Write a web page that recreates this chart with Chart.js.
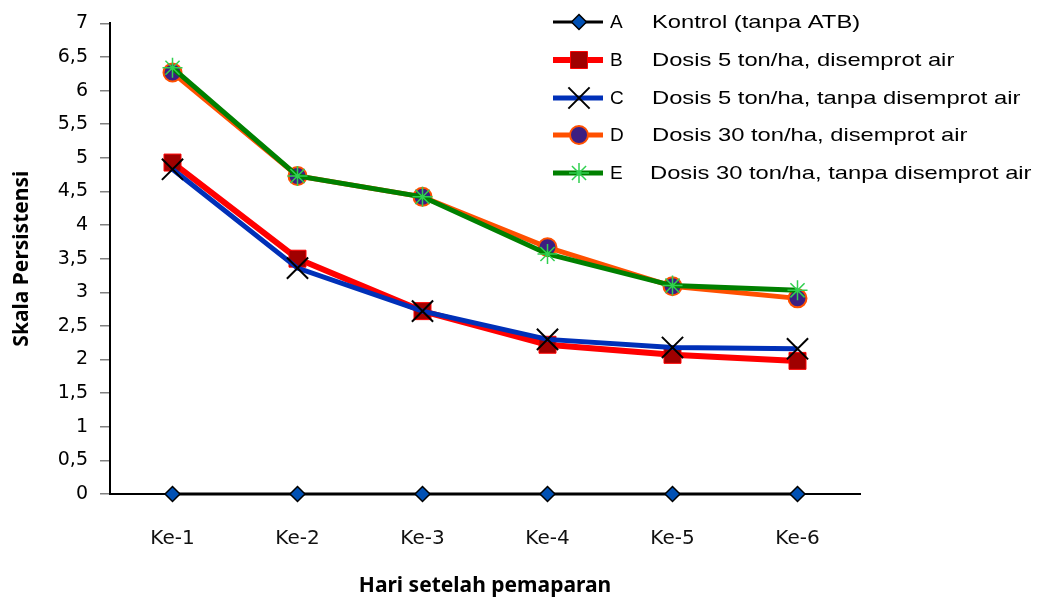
<!DOCTYPE html>
<html>
<head>
<meta charset="utf-8">
<script src="https://cdn.jsdelivr.net/npm/chart.js@4"></script>
<style>
  html, body { margin: 0; padding: 0; background: #fff; }
  #wrap { width: 1044px; height: 601px; }
</style>
</head>
<body>
<div id="wrap"><canvas id="chart"></canvas></div>
<script>
const categories = ['Ke-1', 'Ke-2', 'Ke-3', 'Ke-4', 'Ke-5', 'Ke-6'];
const seriesA = [0, 0, 0, 0, 0, 0];
const seriesB = [4.93, 3.50, 2.72, 2.22, 2.07, 1.98];
const seriesC = [4.83, 3.36, 2.72, 2.30, 2.18, 2.16];
const seriesD = [6.27, 4.73, 4.42, 3.67, 3.09, 2.91];
const seriesE = [6.34, 4.73, 4.42, 3.57, 3.10, 3.03];
const legendLetters = ['A', 'B', 'C', 'D', 'E'];
const legendTexts = [
    'Kontrol (tanpa ATB)',
    'Dosis 5 ton/ha, disemprot air',
    'Dosis 5 ton/ha, tanpa disemprot air',
    'Dosis 30 ton/ha, disemprot air',
    'Dosis 30 ton/ha, tanpa disemprot air'
];
const yAxisTitle = 'Skala Persistensi';
const xAxisTitle = 'Hari setelah pemaparan';

const tickFont = '"DejaVu Sans", sans-serif';
const titleFont = '"Noto Sans", sans-serif';

// legend drawn over the plot, top right, like the original
// (the source picture is stretched sideways, so the text is too)
const sideLegend = {
    id: 'sideLegend',
    afterDraw(chart) {
        const ctx = chart.ctx;
        const rowY = [22, 60, 98, 135, 173];
        chart.data.datasets.forEach(function(ds, i) {
            const y = rowY[i];
            ctx.save();
            ctx.strokeStyle = ds.borderColor;
            ctx.lineWidth = ds.borderWidth;
            ctx.beginPath();
            ctx.moveTo(553, y);
            ctx.lineTo(603, y);
            ctx.stroke();
            ctx.fillStyle = ds.pointBackgroundColor;
            ctx.strokeStyle = ds.pointBorderColor;
            ctx.lineWidth = ds.pointBorderWidth;
            Chart.helpers.drawPoint(ctx, {
                pointStyle: ds.pointStyle,
                radius: ds.pointRadius,
                rotation: 0,
                borderWidth: ds.pointBorderWidth
            }, 579, y);
            ctx.fillStyle = '#000';
            ctx.font = '19px "Liberation Sans", Arial, sans-serif';
            ctx.textBaseline = 'middle';
            ctx.fillText(legendLetters[i], 610, y + 1);
            ctx.translate(i === 4 ? 650 : 652, y + 1);
            ctx.scale(1.25, 1);
            ctx.fillText(legendTexts[i], 0, 0);
            ctx.restore();
        });
    }
};

const ctx = document.getElementById('chart');
new Chart(ctx, {
    type: 'line',
    data: {
        labels: categories,
        datasets: [{
            label: legendLetters[0],
            data: seriesA,
            borderColor: '#000000',
            borderWidth: 3,
            pointStyle: 'rectRot',
            pointRadius: 7.5,
            pointBackgroundColor: '#0050b4',
            pointBorderColor: '#000000',
            pointBorderWidth: 1.5,
            order: 5
        }, {
            label: legendLetters[1],
            data: seriesB,
            borderColor: '#ff0000',
            borderWidth: 6,
            pointStyle: 'rect',
            pointRadius: 12,
            pointBackgroundColor: '#a00000',
            pointBorderColor: '#ff0000',
            pointBorderWidth: 1,
            order: 4
        }, {
            label: legendLetters[2],
            data: seriesC,
            borderColor: '#0030b8',
            borderWidth: 5,
            pointStyle: 'crossRot',
            pointRadius: 15,
            pointBackgroundColor: '#000000',
            pointBorderColor: '#000000',
            pointBorderWidth: 2,
            order: 3
        }, {
            label: legendLetters[3],
            data: seriesD,
            borderColor: '#ff5000',
            borderWidth: 5,
            pointStyle: 'circle',
            pointRadius: 9,
            pointBackgroundColor: '#3c1e82',
            pointBorderColor: '#ff5000',
            pointBorderWidth: 2,
            order: 2
        }, {
            label: legendLetters[4],
            data: seriesE,
            borderColor: '#008000',
            borderWidth: 5,
            pointStyle: 'star',
            pointRadius: 10,
            pointBackgroundColor: '#30d050',
            pointBorderColor: '#30d050',
            pointBorderWidth: 1.5,
            order: 1
        }]
    },
    options: {
        responsive: true,
        maintainAspectRatio: false,
        animation: false,
        layout: {
            padding: { top: 20, right: 184, left: 0, bottom: 0 }
        },
        elements: {
            line: { tension: 0 }
        },
        datasets: {
            line: { clip: false }
        },
        plugins: {
            legend: { display: false },
            tooltip: { enabled: false }
        },
        scales: {
            x: {
                offset: true,
                grid: { display: false },
                border: { display: true, color: '#000', width: 2 },
                ticks: {
                    padding: 25,
                    color: '#111',
                    font: { family: tickFont, size: 20 }
                },
                title: {
                    display: true,
                    text: xAxisTitle,
                    color: '#000',
                    padding: { top: 2, bottom: 2 },
                    font: { family: titleFont, size: 21, weight: 'bold' }
                },
                afterFit: function(s) { s.height = 107; }
            },
            y: {
                min: 0,
                max: 7,
                grid: {
                    display: true,
                    drawOnChartArea: false,
                    drawTicks: true,
                    tickLength: 10,
                    color: '#808080',
                    lineWidth: 1.5
                },
                border: { display: true, color: '#000', width: 2 },
                ticks: {
                    stepSize: 0.5,
                    padding: 12,
                    color: '#000',
                    font: { family: tickFont, size: 19 },
                    callback: function(v) { return String(v).replace('.', ','); }
                },
                title: {
                    display: true,
                    text: yAxisTitle,
                    color: '#000',
                    padding: { top: 9, bottom: 2 },
                    font: { family: titleFont, size: 21, weight: 'bold' }
                },
                afterFit: function(s) { s.width = 110; }
            }
        }
    },
    plugins: [sideLegend]
});
</script>
</body>
</html>
